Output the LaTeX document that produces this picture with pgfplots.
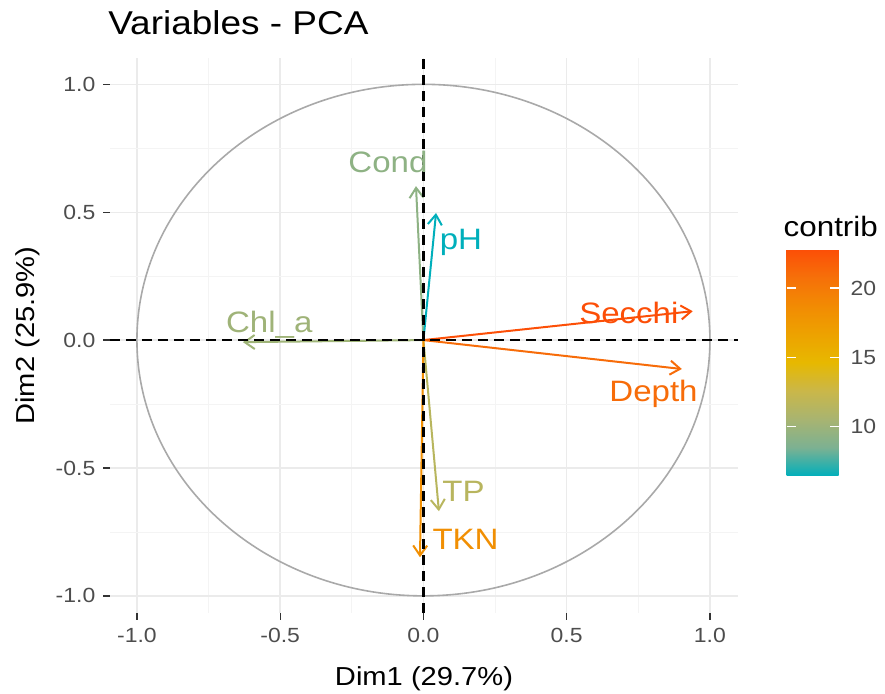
\documentclass[border=0pt]{standalone}
\usepackage{fontspec}
\setmainfont{Liberation Sans}[FakeStretch=1.12]
\usepackage{pgfplots}
\usepackage{pgfplotstable}
\pgfplotsset{compat=1.18}
\usetikzlibrary{arrows.meta}

\definecolor{tickgrey}{HTML}{4D4D4D}
\definecolor{tickmark}{HTML}{333333}
\definecolor{gridmajor}{HTML}{EBEBEB}
\definecolor{gridminor}{HTML}{F4F4F4}
\definecolor{circlegrey}{HTML}{A9A9A9}

% label colours: the contrib gradient evaluated at each variable's contribution
\definecolor{lab0}{RGB}{142,178,132} % Cond   9.3
\definecolor{lab1}{RGB}{0,175,187}   % pH     6.4
\definecolor{lab2}{RGB}{159,179,120} % Chl_a 10.1
\definecolor{lab3}{RGB}{252,78,7}    % Secchi 22.8
\definecolor{lab4}{RGB}{247,108,9}   % Depth  21.0
\definecolor{lab5}{RGB}{184,181,94}  % TP     11.5
\definecolor{lab6}{RGB}{241,143,3}   % TKN    18.4

\newcommand{\ticksize}{\fontsize{20.5bp}{24bp}\selectfont}
\newcommand{\labsize}{\fontsize{26bp}{30bp}\selectfont}
\newcommand{\legsize}{\fontsize{28bp}{32bp}\selectfont}
\newcommand{\txtsize}{\fontsize{29.5bp}{33bp}\selectfont}
\newcommand{\titlesize}{\fontsize{33bp}{38bp}\selectfont}

% teal -> yellow -> orange-red gradient for the contributions
\pgfplotsset{
  colormap={contrib}{
    rgb255=(0,175,187) rgb255=(124,177,146) rgb255=(168,180,113)
    rgb255=(202,183,73) rgb255=(231,184,0) rgb255=(237,162,0)
    rgb255=(242,139,3) rgb255=(246,112,9) rgb255=(252,78,7)}
}

% variable coordinates on Dim1/Dim2, contribution, label position
\pgfplotstableread{
name     ox  oy   ux      uy      c      lx      ly
Cond     0   0   -0.026   0.602   9.3   -0.124   0.657
pH       0   0    0.044   0.497   6.4    0.131   0.356
Chl\_a   0   0   -0.630  -0.008  10.1   -0.538   0.031
Secchi   0   0    0.940   0.113  22.8    0.717   0.063
Depth    0   0    0.902  -0.113  21.0    0.803  -0.242
TP       0   0    0.054  -0.669  11.5    0.140  -0.630
TKN      0   0   -0.012  -0.849  18.4    0.147  -0.817
}\pcavars

\begin{document}
\begin{tikzpicture}
\begin{axis}[
  name=main,
  scale only axis, width=628bp, height=555bp,
  xmin=-1.094, xmax=1.098, ymin=-1.067, ymax=1.103,
  xtick={-1,-0.5,0,0.5,1}, ytick={-1,-0.5,0,0.5,1},
  minor xtick={-0.75,-0.25,0.25,0.75},
  minor ytick={-0.75,-0.25,0.25,0.75},
  grid=both,
  major grid style={draw=gridmajor, line width=1.4bp},
  minor grid style={draw=gridminor, line width=0.8bp},
  axis line style={draw=none},
  tick align=outside, xtick pos=bottom, ytick pos=left,
  major tick length=6.5bp, minor tick length=0pt,
  major tick style={draw=tickmark, line width=1.3bp},
  /pgf/number format/assume math mode=true,
  xticklabel={\pgfmathprintnumber[fixed,fixed zerofill,precision=1]{\tick}},
  yticklabel={\pgfmathprintnumber[fixed,fixed zerofill,precision=1]{\tick}},
  every x tick label/.style={font=\ticksize, text=tickgrey, inner sep=0pt, anchor=north},
  every y tick label/.style={font=\ticksize, text=tickgrey, inner sep=0pt, anchor=east},
  xticklabel shift=8bp,
  yticklabel shift=8bp,
  title={Variables - PCA},
  title style={at={(-0.003,1.0324)}, anchor=base west, font=\titlesize, inner sep=0pt},
  xlabel={Dim1 (29.7\%)},
  xlabel style={at={(0.5,-0.1315)}, anchor=base, font=\labsize, inner sep=0pt},
  ylabel={Dim2 (25.9\%)},
  ylabel style={at={(-0.121,0.5)}, anchor=base, font=\labsize, inner sep=0pt},
  colormap name=contrib,
  point meta min=6.4, point meta max=22.83,
  colorbar,
  colorbar/width=52bp,
  colorbar style={
    at={(parent axis.north east)}, anchor=north west,
    xshift=40bp, yshift=-191bp,
    scale only axis, width=52bp, height=227bp,
    grid=none,
    xtick=\empty,
    ytick={10,15,20},
    axis line style={draw=none},
    tick align=inside, ytick pos=both, yticklabel pos=right,
    major tick length=9bp, minor tick length=0pt,
    major tick style={draw=white, line width=1.2bp},
    /pgf/number format/assume math mode=true,
    yticklabel={\pgfmathprintnumber{\tick}},
    every y tick label/.style={font=\ticksize, text=tickgrey, inner sep=0pt, anchor=west},
    yticklabel shift=12bp,
    title={contrib},
    every axis title/.style={at={(0,1)}, anchor=base west, xshift=-3bp, yshift=12bp,
      font=\legsize, inner sep=0pt},
  },
]
% correlation circle
\draw[circlegrey, line width=1.6bp] (axis cs:0,0) ellipse [x radius=1, y radius=1];

% variable arrows coloured by contribution
\addplot[no markers, point meta=\thisrow{c},
  quiver={u=\thisrow{ux}, v=\thisrow{uy},
    every arrow/.append style={-{Straight Barb[length=10bp,width=14bp]}, line width=2bp},
    colored=mapped color}]
  table[x=ox, y=oy] {\pcavars};

% variable names, looked up by row index
\addplot[scatter, only marks, mark=text, text mark={},
  point meta=\thisrow{c},
  visualization depends on={value \coordindex\as\idx},
  nodes near coords={\pgfplotstablegetelem{\idx}{name}\of\pcavars
    \textcolor{lab\idx}{\pgfplotsretval}},
  every node near coord/.append style={anchor=base, inner sep=0pt, font=\txtsize}]
  table[x=lx, y=ly] {\pcavars};

% reference lines through the origin
\draw[black, dash pattern=on 10bp off 6bp, line width=2.2bp]
  (axis cs:0,-1.067) -- (axis cs:0,1.103);
\draw[black, dash pattern=on 10bp off 6bp, line width=2.2bp]
  (axis cs:-1.094,0) -- (axis cs:1.098,0);
\end{axis}
\pgfresetboundingbox
\path (main.south west) ++(-110bp,-81bp) rectangle ++(885bp,694bp);
\end{tikzpicture}
\end{document}
